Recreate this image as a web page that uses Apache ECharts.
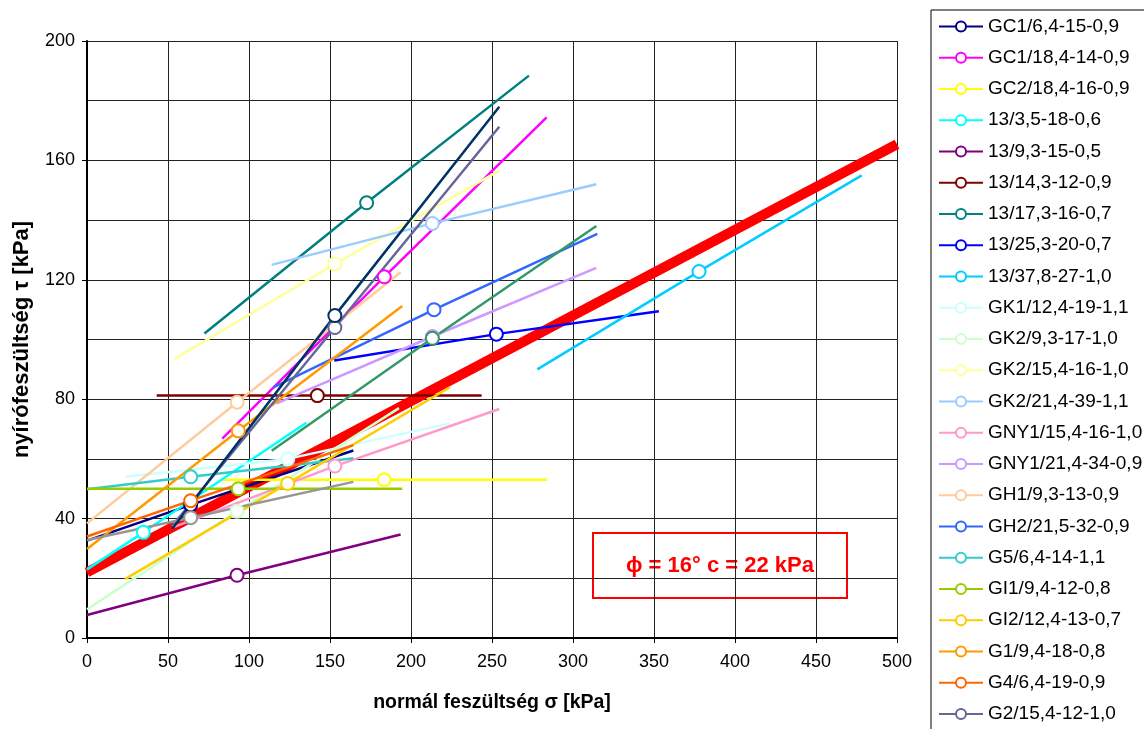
<!DOCTYPE html>
<html>
<head>
<meta charset="utf-8">
<script src="https://cdn.jsdelivr.net/npm/echarts@6/dist/echarts.min.js"></script>
<style>
  html, body { margin: 0; padding: 0; background: #fff; }
  #chart { width: 1144px; height: 729px; }
</style>
</head>
<body>
<div id="chart"></div>
<script>
// legend names (in order), colours follow the Excel palette
const seriesNames = [
  'GC1/6,4-15-0,9', 'GC1/18,4-14-0,9', 'GC2/18,4-16-0,9', '13/3,5-18-0,6',
  '13/9,3-15-0,5', '13/14,3-12-0,9', '13/17,3-16-0,7', '13/25,3-20-0,7',
  '13/37,8-27-1,0', 'GK1/12,4-19-1,1', 'GK2/9,3-17-1,0', 'GK2/15,4-16-1,0',
  'GK2/21,4-39-1,1', 'GNY1/15,4-16-1,0', 'GNY1/21,4-34-0,9', 'GH1/9,3-13-0,9',
  'GH2/21,5-32-0,9', 'G5/6,4-14-1,1', 'GI1/9,4-12-0,8', 'GI2/12,4-13-0,7',
  'G1/9,4-18-0,8', 'G4/6,4-19-0,9', 'G2/15,4-12-1,0'
];
const seriesColors = [
  '#000080', '#FF00FF', '#FFFF00', '#00FFFF', '#800080', '#800000', '#008080', '#0000FF',
  '#00CCFF', '#CCFFFF', '#CCFFCC', '#FFFF99', '#99CCFF', '#FF99CC', '#CC99FF', '#FFCC99',
  '#3366FF', '#33CCCC', '#99CC00', '#FFCC00', '#FF9900', '#FF6600', '#666699'
];

// [sigma, tau] points, middle point is the measured one (with marker)
const GC1_6    = [[0, 32.6], [64, 44.6], [164.4, 62.8]];
const GC1_18   = [[83.5, 66.8], [183.5, 121], [283.7, 174.4]];
const GC2_18   = [[83, 53], [183.5, 53], [284, 53]];
const S13_3    = [[0, 23], [34.8, 35.4], [135.4, 72.1]];
const S13_9    = [[0, 7.7], [92.6, 21], [193.6, 34.7]];
const S13_14   = [[43, 81.2], [142.2, 81.2], [243.6, 81.2]];
const S13_17   = [[72.5, 102], [172.6, 145.8], [272.8, 188.4]];
const S13_25   = [[152.6, 93], [252.7, 101.8], [353, 109.5]];
const S13_37   = [[278, 90], [377.8, 122.8], [478.2, 155]];
const GK1_12   = [[24, 54], [123.9, 60], [224, 71.9]];
const GK2_9    = [[0, 9.6], [92.6, 42.5], [192.6, 77]];
const GK2_15   = [[54, 93.5], [153, 125.3], [254.5, 156.6]];
const GK2_21   = [[114, 125], [213.2, 138.9], [314.4, 152]];
const GNY1_15  = [[52.6, 37], [153, 57.6], [254.5, 76.7]];
const GNY1_21  = [[117, 78.6], [213.2, 101], [314.4, 124]];
const GH1_9    = [[0, 38.4], [92.7, 79], [193.6, 122.5]];
const GH2_21   = [[115, 84], [214.2, 110], [315, 135.4]];
const G5_6     = [[0, 49.8], [64, 54], [164.4, 60.2]];
const GI1_9    = [[0, 50], [93.4, 50], [194.6, 50]];
const GI2_12   = [[23.5, 19.7], [123.9, 51.8], [224, 84]];
const G1_9     = [[0, 29.8], [93.4, 69.4], [194.6, 111.2]];
const G4_6     = [[0, 34], [64, 46], [164.4, 64.6]];
const G2_15    = [[52.5, 37.5], [153, 104], [254.5, 171.3]];

// series whose legend rows are below the visible area
const extraNames  = ['G3', 'G6', 'G7'];
const extraColors = ['#969696', '#003366', '#339966'];
const EXTRA_GRAY  = [[0, 32.8], [64, 40.3], [164.4, 52.3]];
const EXTRA_NAVY  = [[52.5, 36.5], [153, 108], [254.5, 178]];
const EXTRA_GREEN = [[114, 62.7], [213.2, 100.4], [314.4, 138]];

// envelope: tau = c + sigma * tan(16°)
const envelope = [[0, 22], [500, 165.4]];

const seriesData = [GC1_6, GC1_18, GC2_18, S13_3, S13_9, S13_14, S13_17, S13_25, S13_37,
  GK1_12, GK2_9, GK2_15, GK2_21, GNY1_15, GNY1_21, GH1_9, GH2_21, G5_6, GI1_9, GI2_12,
  G1_9, G4_6, G2_15];
const extraData = [EXTRA_GRAY, EXTRA_NAVY, EXTRA_GREEN];

const FONT = 'Arial, "Liberation Sans", sans-serif';

function makeLine(name, color, pts) {
  return {
    name: name,
    type: 'line',
    z: 3,
    color: color,
    symbol: 'emptyCircle',
    symbolSize: 13,
    itemStyle: { borderWidth: 1.5 },
    lineStyle: { width: 2.5, color: color },
    // only the measured middle point gets a marker
    data: pts.map((p, i) => i === 1 ? p : { value: p, symbol: 'none' })
  };
}

const chart = echarts.init(document.getElementById('chart'), null, { renderer: 'canvas' });

const series = [{
  name: 'envelope', type: 'line', z: 2, symbol: 'none',
  lineStyle: { width: 10, color: '#FF0000' }, color: '#FF0000', data: envelope
}];
seriesNames.forEach((n, i) => series.push(makeLine(n, seriesColors[i], seriesData[i])));
extraNames.forEach((n, i) => series.push(makeLine(n, extraColors[i], extraData[i])));

const gridLine = { show: true, lineStyle: { color: '#222', width: 1 } };

chart.setOption({
  animation: false,
  backgroundColor: '#fff',
  grid: { left: 87, right: 247, top: 41, bottom: 91 },
  legend: {
    data: seriesNames,
    orient: 'vertical',
    left: 931, top: 10, height: 900,
    padding: [7, 4, 8, 7],
    borderColor: '#000', borderWidth: 1,
    itemWidth: 44, itemHeight: 12.5, itemGap: 12.25,
    selectedMode: false,
    textStyle: { fontFamily: FONT, fontSize: 19, color: '#000' }
  },
  xAxis: {
    type: 'value', min: 0, max: 500, interval: 50,
    name: 'normál feszültség σ [kPa]', nameLocation: 'middle', nameGap: 55,
    nameTextStyle: { fontFamily: FONT, fontSize: 19.5, fontWeight: 'bold', color: '#000' },
    axisLine: { show: true, onZero: false, lineStyle: { color: '#000', width: 2 } },
    axisTick: { show: true, length: 5, lineStyle: { color: '#000' } },
    axisLabel: { fontFamily: FONT, fontSize: 18, color: '#000', margin: 15 },
    splitLine: gridLine
  },
  yAxis: {
    type: 'value', min: 0, max: 200, interval: 40,
    name: 'nyírófeszültség τ [kPa]', nameLocation: 'middle', nameGap: 54,
    nameTextStyle: { fontFamily: FONT, fontSize: 22, fontWeight: 'bold', color: '#000' },
    axisLine: { show: true, onZero: false, lineStyle: { color: '#000', width: 2 } },
    axisTick: { show: true, length: 5, lineStyle: { color: '#000' } },
    axisLabel: { fontFamily: FONT, fontSize: 18, color: '#000', margin: 12 },
    splitLine: gridLine,
    minorTick: { show: false, splitNumber: 2 },
    minorSplitLine: gridLine
  },
  graphic: [{
    type: 'group', left: 592, top: 532, z: 10,
    children: [
      { type: 'rect', shape: { x: 0, y: 0, width: 254, height: 65 },
        style: { fill: '#fff', stroke: '#FF0000', lineWidth: 2 } },
      { type: 'text', x: 127, y: 33,
        style: { text: 'ϕ = 16° c = 22 kPa', fill: '#FF0000', align: 'center', verticalAlign: 'middle',
                 font: 'bold 22px Arial, "Liberation Sans", sans-serif' } }
    ]
  }],
  series: series
});
</script>
</body>
</html>
